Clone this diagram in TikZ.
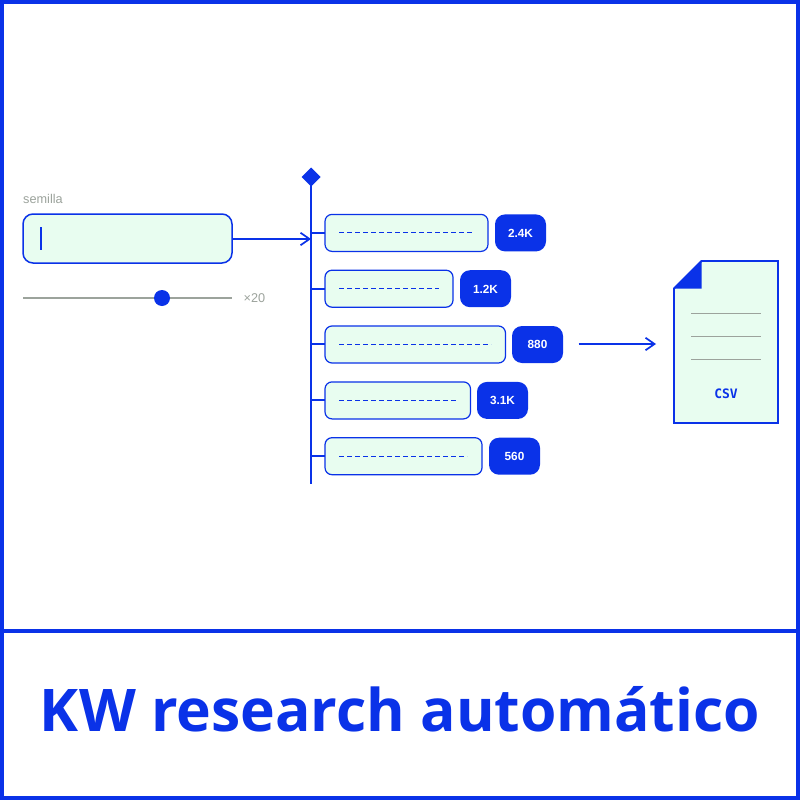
\documentclass[tikz,border=0pt]{standalone}
\usepackage{fontspec}
\setmainfont{Liberation Sans}
\newfontfamily\titlefont{Open Sans}
\newfontfamily\csvfont{DejaVu Sans Mono}
\usetikzlibrary{arrows.meta}
\definecolor{kwblue}{HTML}{0A32E8}
\definecolor{kwmint}{HTML}{E8FDF0}
\definecolor{kwgray}{HTML}{9CA39C}
\tikzset{
  frameline/.style={draw=kwblue,line width=4pt},
  conn/.style={draw=kwblue,line width=1.7pt},
  openarrow/.style={conn,-{Straight Barb[length=9pt,width=12.5pt,line width=1.7pt]}},
  inputbox/.style={draw=kwblue,fill=kwmint,line width=1.5pt,rounded corners=10pt},
  itembox/.style={draw=kwblue,fill=kwmint,line width=1.2pt,rounded corners=7pt},
  badgebox/.style={fill=kwblue,rounded corners=10pt},
  dashline/.style={draw=kwblue,line width=1.4pt,dash pattern=on 5pt off 3pt},
  badgetext/.style={text=white,font=\fontsize{11.8}{14}\selectfont\bfseries,inner sep=0pt},
  graytext/.style={text=kwgray,font=\fontsize{12.7}{15}\selectfont,inner sep=0pt},
  docline/.style={draw=kwgray,line width=1pt},
}
\begin{document}
\begin{tikzpicture}[x=1pt,y=-1pt]
\useasboundingbox (0,0) rectangle (800,800);
\fill[white] (0,0) rectangle (800,800);
\draw[frameline] (2,2) rectangle (798,798);
\draw[draw=kwblue,line width=3.2pt] (4,631) -- (796,631);
\node[text=kwblue,font=\titlefont\fontsize{58.8}{66}\selectfont\bfseries,inner sep=0pt] (title) at (400,709) {KW research automático};

% seed input
\node[graytext,anchor=west] (seedlabel) at (23,198.5) {semilla};
\draw[inputbox] (23,214) rectangle (232,263);
\coordinate (inputout) at (232,239);
\draw[draw=kwblue,line width=1.8pt] (41,227) -- (41,250);

% slider
\coordinate (slL) at (23,298);
\coordinate (slR) at (232,298);
\draw[draw=kwgray,line width=1.6pt] (slL) -- (slR);
\fill[kwblue] (162,298) circle (8pt);
\node[graytext,anchor=west] (times) at (243.5,298.5) {×20};

% trunk
\coordinate (trunkTop) at (311,177);
\coordinate (trunkBot) at (311,484);
\draw[conn] (trunkTop) -- (trunkBot);
\fill[kwblue] (311,167.5) -- (320.5,177) -- (311,186.5) -- (301.5,177) -- cycle;
\draw[openarrow] (inputout) -- (311,239);

% rows: centre, right edge, dash end, badge left, branch y, dash y, label
\foreach \yc/\xr/\dashend/\bl/\by/\dy/\txt in {232.9/488/474/495/233/232.5/2.4K, 288.7/453/439/460/289/288.5/1.2K, 344.5/505.5/491/512/344/344.5/880, 400.4/470.5/457/477/400/400.5/3.1K, 456.2/482/467/489/456/456.5/560}{
  \draw[conn] (311,\by) -- (325,\by);
  \draw[itembox] (325,\yc-18.5) rectangle (\xr,\yc+18.5);
  \draw[dashline] (339,\dy) -- (\dashend,\dy);
  \fill[badgebox] (\bl,\yc-18.5) rectangle (\bl+51,\yc+18.5);
  \node[badgetext] at (\bl+25.5,\yc+0.3) {\txt};
}

% export arrow
\coordinate (expL) at (578.5,344);
\coordinate (expR) at (656,344);
\draw[openarrow] (expL) -- (expR);

% document
\draw[draw=kwblue,fill=kwmint,line width=1.8pt] (701.5,261) -- (778,261) -- (778,423) -- (674,423) -- (674,288.5) -- cycle;
\fill[kwblue] (701.5,261) -- (701.5,288.5) -- (674,288.5) -- cycle;
\draw[docline] (691,313) -- (761,313);
\draw[docline] (691,336) -- (761,336);
\draw[docline] (691,359.5) -- (761,359.5);
\node[text=kwblue,font=\csvfont\fontsize{13}{15}\selectfont\bfseries,inner sep=0pt] (csv) at (726,394) {CSV};
\end{tikzpicture}
\end{document}
